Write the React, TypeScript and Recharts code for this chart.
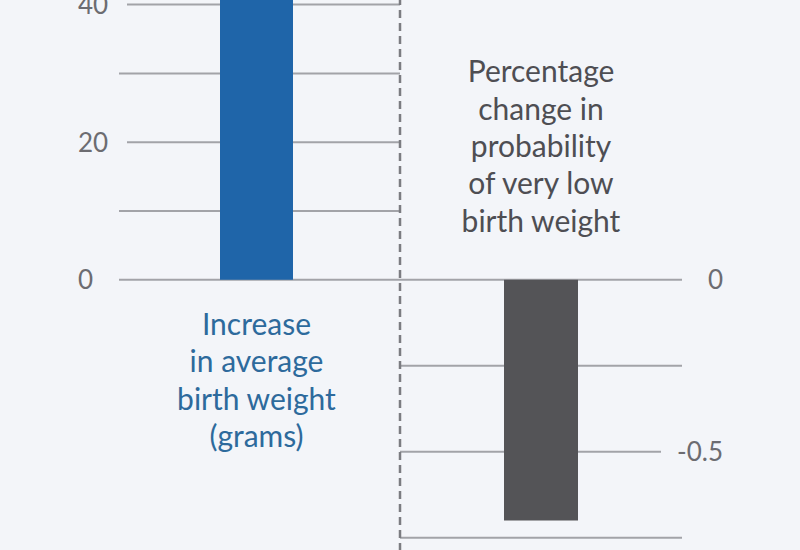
import { Bar, BarChart, CartesianGrid, LabelList, XAxis, YAxis } from 'recharts';

// two panels sharing the zero line: grams on the left, percentage change on the right
const categories = ['Birth weight', 'Very low birth weight'];
const birthWeightLines = ['Increase', 'in average', 'birth weight', '(grams)'];
const lowBirthWeightLines = ['Percentage', 'change in', 'probability', 'of very low', 'birth weight'];
const birthWeightGain = [46]; // top of the bar is cut off in the picture
const lowBirthWeightChange = [-0.7];

const leftTicks = [0, 10, 20, 30, 40];
const leftTickLabels = [0, 20, 40];
const rightTicks = [0, -0.25, -0.5, -0.75];
const rightTickLabels = [0, -0.5];

const leftData = [{ name: categories[0], value: birthWeightGain[0] }];
const rightData = [{ name: categories[1], value: lowBirthWeightChange[0] }];

const FONT = 'Lato, "Open Sans", sans-serif';
const gridColor = '#a2a3a8';
const tickColor = '#6c6c71';
const blue = '#1f65a9';
const darkGray = '#545457';

const CHART_H = 688;
const CHART_TOP = -133;

function LeftTick(p: any) {
  const v = p.payload?.value;
  if (!leftTickLabels.includes(v)) return <g />;
  return (
    <text x={p.x - 33} y={p.y} dy="0.36em" textAnchor="start" fill={tickColor} fontSize={26} fontFamily={FONT}>
      {v}
    </text>
  );
}

function RightTick(p: any) {
  const v = p.payload?.value;
  if (!rightTickLabels.includes(v)) return <g />;
  return (
    <text x={p.x + 33} y={p.y} dy="0.36em" textAnchor="end" fill={tickColor} fontSize={26} fontFamily={FONT}>
      {v}
    </text>
  );
}

const leftGridLine = (p: any) => {
  const v = leftTicks[p.index];
  const x1 = v !== 0 && leftTickLabels.includes(v) ? p.x1 + 8 : p.x1;
  return <line x1={x1} x2={p.x2} y1={p.y1} y2={p.y2} stroke={gridColor} strokeWidth={2} />;
};

const rightGridLine = (p: any) => {
  const v = rightTicks[p.index];
  const x2 = v !== 0 && rightTickLabels.includes(v) ? p.x2 - 21 : p.x2;
  return <line x1={p.x1} x2={x2} y1={p.y1} y2={p.y2} stroke={gridColor} strokeWidth={2} />;
};

// dashed divider at the right edge of the left panel
const dividerLine = (p: any) => (
  <line x1={p.x1} x2={p.x2} y1={p.y1} y2={p.y2} stroke="#7b7c81" strokeWidth={2.5} strokeDasharray="8 5" />
);
const dividerAt = ({ offset }: any) => [offset.left + offset.width];

function stackedText(p: any, lines: string[], color: string, below: boolean) {
  const { x, y, width, height } = p;
  const cx = x + width / 2;
  const zeroY = below ? Math.max(y, y + height) : Math.min(y, y + height);
  const step = 37.4;
  const first = below ? zeroY + 55 : zeroY - 48 - step * (lines.length - 1);
  return (
    <text textAnchor="middle" fill={color} fontSize={30} fontFamily={FONT}>
      {lines.map((l, i) => (
        <tspan key={i} x={cx} y={first + i * step}>
          {l}
        </tspan>
      ))}
    </text>
  );
}

export default function App() {
  return (
    <div
      style={{
        position: 'fixed',
        left: 0,
        top: 0,
        width: 800,
        height: 550,
        overflow: 'hidden',
        background: '#f3f5f9',
      }}
    >
      <div style={{ position: 'absolute', left: 400, top: CHART_TOP }}>
        <BarChart width={400} height={CHART_H} data={rightData} margin={{ top: 0, right: 0, bottom: 0, left: 0 }}>
          <CartesianGrid yAxisId="r" vertical={false} syncWithTicks horizontal={rightGridLine} />
          <XAxis dataKey="name" hide />
          <YAxis
            yAxisId="r"
            orientation="right"
            width={118}
            domain={[-0.8, 1.2]}
            ticks={rightTicks}
            interval={0}
            axisLine={false}
            tickLine={false}
            tick={RightTick}
          />
          <Bar yAxisId="r" dataKey="value" fill={darkGray} barSize={74} isAnimationActive={false}>
            <LabelList dataKey="value" content={(p: any) => stackedText(p, lowBirthWeightLines, '#4e4e53', false)} />
          </Bar>
        </BarChart>
      </div>
      <div style={{ position: 'absolute', left: 0, top: CHART_TOP }}>
        <BarChart width={404} height={CHART_H} data={leftData} margin={{ top: 0, right: 4, bottom: 0, left: 0 }}>
          <CartesianGrid
            yAxisId="l"
            syncWithTicks
            horizontal={leftGridLine}
            vertical={dividerLine}
            verticalCoordinatesGenerator={dividerAt}
          />
          <XAxis dataKey="name" hide padding={{ left: 0, right: 6 }} />
          <YAxis
            yAxisId="l"
            width={119}
            domain={[-40, 60]}
            ticks={leftTicks}
            interval={0}
            axisLine={false}
            tickLine={false}
            tick={LeftTick}
          />
          <Bar yAxisId="l" dataKey="value" fill={blue} barSize={73} isAnimationActive={false}>
            <LabelList dataKey="value" content={(p: any) => stackedText(p, birthWeightLines, '#2d6a9c', true)} />
          </Bar>
        </BarChart>
      </div>
    </div>
  );
}
